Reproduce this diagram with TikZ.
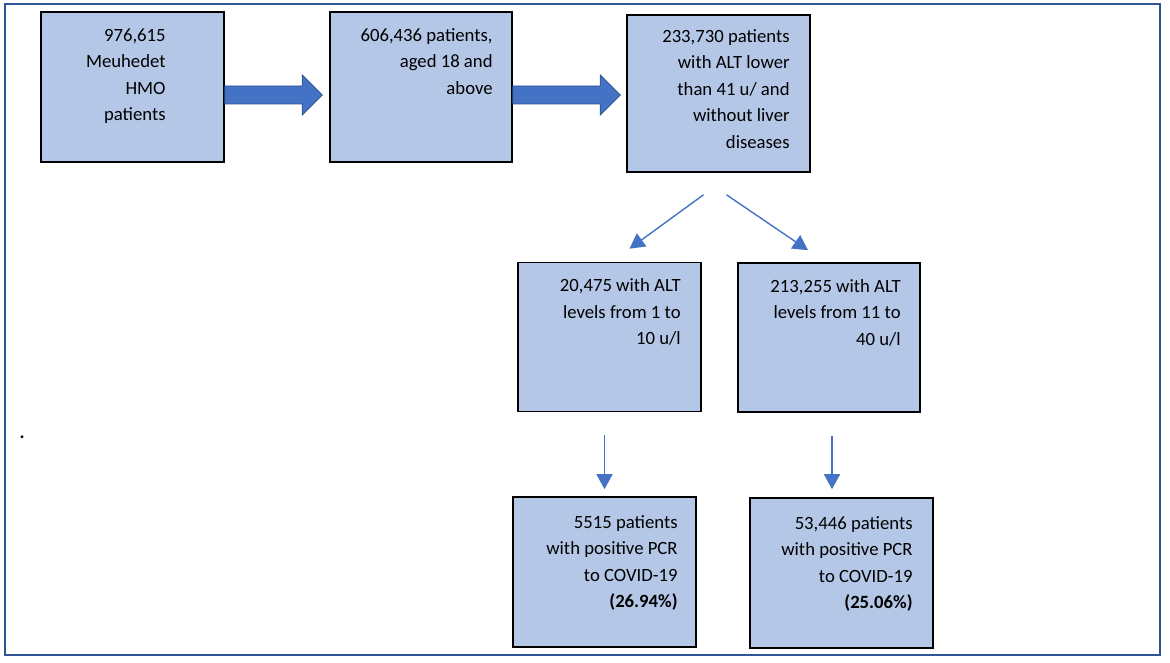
\documentclass[tikz,border=0pt]{standalone}
\usepackage{fontspec}
\setmainfont{Carlito}
\usetikzlibrary{arrows.meta,calc}
\definecolor{boxfill}{HTML}{B4C7E7}
\definecolor{arrblue}{HTML}{4472C4}
\definecolor{arredge}{HTML}{2F528F}
\definecolor{framecol}{HTML}{2F5597}
\tikzset{
  flowbox/.style={draw=black, line width=1.6pt, fill=boxfill, inner sep=0pt},
  boxtext/.style={anchor=north east, inner sep=0pt, align=right,
    font=\fontsize{18.7}{26.5}\selectfont},
  thinarrow/.style={draw=arrblue, line width=1.4pt,
    -{Triangle[width=16pt,length=15pt]}},
  blockarrow/.style={draw=arredge, line width=0.8pt, fill=arrblue},
  framebox/.style={draw=framecol, line width=2.5pt}
}
\newcommand{\myblockarrow}[2]{%
  \draw[blockarrow] let \p1=(#1), \p2=(#2) in
    (\x1,\y1+9pt) -- (\x2-20pt,\y1+9pt) -- (\x2-20pt,\y1+20pt) -- (\x2,\y1)
    -- (\x2-20pt,\y1-20pt) -- (\x2-20pt,\y1-9pt) -- (\x1,\y1-9pt) -- cycle;}
\begin{document}
\begin{tikzpicture}[x=1pt,y=-1pt]
\useasboundingbox (0,0) rectangle (1170,663);
\draw[framebox] (5,4) rectangle (1160,655);

% boxes
\node[flowbox, minimum width=183pt, minimum height=150pt] (b1) at (132.5,87) {};
\node[flowbox, minimum width=182pt, minimum height=150pt] (b2) at (421,87) {};
\node[flowbox, minimum width=183pt, minimum height=157pt] (b3) at (718.5,93.5) {};
\node[flowbox, minimum width=183pt, minimum height=149pt] (b4) at (609.5,337) {};
\node[flowbox, minimum width=182pt, minimum height=149pt] (b5) at (829,337.5) {};
\node[flowbox, minimum width=183pt, minimum height=150pt] (b6) at (604.5,572) {};
\node[flowbox, minimum width=183pt, minimum height=150pt] (b7) at (841.5,573) {};

% texts
\node[boxtext] (t1) at ([xshift=-59pt,yshift=-17pt]b1.north east) {976,615\\Meuhedet\\HMO\\patients};
\node[boxtext] (t2) at ([xshift=-20pt,yshift=-17pt]b2.north east) {606,436 patients,\\aged 18 and\\above};
\node[boxtext] (t3) at ([xshift=-21pt,yshift=-15pt]b3.north east) {233,730 patients\\with ALT lower\\than 41 u/ and\\without liver\\diseases};
\node[boxtext] (t4) at ([xshift=-21pt,yshift=-17pt]b4.north east) {20,475 with ALT\\levels from 1 to\\10 u/l};
\node[boxtext] (t5) at ([xshift=-20pt,yshift=-17pt]b5.north east) {213,255 with ALT\\levels from 11 to\\40 u/l};
\node[boxtext] (t6) at ([xshift=-19pt,yshift=-19pt]b6.north east) {5515 patients\\with positive PCR\\to COVID-19\\\textbf{(26.94\%)}};
\node[boxtext] (t7) at ([xshift=-21pt,yshift=-19pt]b7.north east) {53,446 patients\\with positive PCR\\to COVID-19\\\textbf{(25.06\%)}};

% block arrows
\coordinate (a1s) at ([yshift=-8pt]b1.east);
\coordinate (a1e) at ([xshift=-7pt,yshift=-8pt]b2.west);
\coordinate (a2s) at ([yshift=-8pt]b2.east);
\coordinate (a2e) at ([xshift=-6pt,yshift=-8pt]b2.west -| b3.west);
\myblockarrow{a1s}{a1e}
\myblockarrow{a2s}{a2e}

% thin arrows
\coordinate (s1) at ([xshift=-15pt,yshift=-22pt]b3.south);
\coordinate (s2) at ([xshift=8pt,yshift=-22pt]b3.south);
\draw[thinarrow] (s1) -- ([xshift=20pt,yshift=13pt]b4.north);
\draw[thinarrow] (s2) -- ([xshift=-21pt,yshift=12pt]b5.north);
\coordinate (d1) at ([yshift=-23pt]b4.south -| b6.north);
\coordinate (d2) at ([xshift=3pt,yshift=-23pt]b5.south);
\draw[thinarrow] (d1) -- ([yshift=7pt]b6.north);
\draw[thinarrow] (d2) -- ([yshift=8pt]b7.north -| d2);

% stray dot
\node[inner sep=0pt, font=\fontsize{18.7}{26.5}\selectfont\bfseries] (dot) at (22,437) {.};
\end{tikzpicture}
\end{document}
